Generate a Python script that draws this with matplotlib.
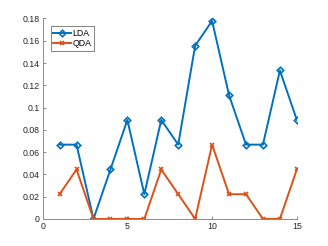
import matplotlib.pyplot as plt

# classification error per fold
folds = list(range(1, 16))
lda_err = [0.0667, 0.0667, 0.0, 0.0444, 0.0889, 0.0222, 0.0889, 0.0667,
           0.1556, 0.1778, 0.1111, 0.0667, 0.0667, 0.1333, 0.0889]
qda_err = [0.0222, 0.0444, 0.0, 0.0, 0.0, 0.0, 0.0444, 0.0222,
           0.0, 0.0667, 0.0222, 0.0222, 0.0, 0.0, 0.0444]

plt.rcParams["font.family"] = ["Liberation Sans", "DejaVu Sans"]

fig = plt.figure(figsize=(3.28, 2.46), dpi=100)
ax = fig.add_axes([0.13, 0.11, 0.775, 0.815])

ax.plot(folds, lda_err, color="#0072BD", marker="D", markersize=3.3,
        markerfacecolor="none", markeredgewidth=1.2, linewidth=1.4, label="LDA")
ax.plot(folds, qda_err, color="#D95319", marker="x", markersize=3.3,
        markeredgewidth=1.2, linewidth=1.4, label="QDA")

ax.set_xlim(0, 15)
ax.set_ylim(0, 0.18)
ax.set_xticks([0, 5, 10, 15])
ax.set_yticks([0, 0.02, 0.04, 0.06, 0.08, 0.1, 0.12, 0.14, 0.16, 0.18])
ax.set_yticklabels(["0", "0.02", "0.04", "0.06", "0.08", "0.1",
                    "0.12", "0.14", "0.16", "0.18"])

ax.spines["top"].set_visible(False)
ax.spines["right"].set_visible(False)
for s in ("left", "bottom"):
    ax.spines[s].set_color("#8c8c8c")
    ax.spines[s].set_linewidth(0.7)
ax.tick_params(direction="in", length=2, width=0.7, color="#8c8c8c",
               labelsize=6.3, labelcolor="#262626", pad=2)

leg = ax.legend(loc="upper left", bbox_to_anchor=(0.025, 0.97), fontsize=6.3,
                frameon=True, fancybox=False, handlelength=2.0,
                borderpad=0.3, labelspacing=0.15, handletextpad=0.2,
                borderaxespad=0.2)
leg.get_frame().set_edgecolor("#262626")
leg.get_frame().set_linewidth(0.5)

fig.savefig("out.png", dpi=100)
